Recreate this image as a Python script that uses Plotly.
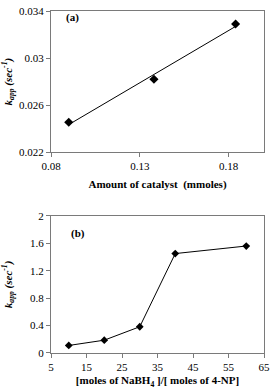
import numpy as np
import plotly.graph_objects as go

# Panel (a)
catalyst = [0.09, 0.138, 0.184]
kapp_a = [0.02455, 0.0282, 0.0329]
# Panel (b)
ratio = [10, 20, 30, 40, 60]
kapp_b = [0.11, 0.187, 0.383, 1.45, 1.56]

xa_ticks = [0.08, 0.13, 0.18]
ya_ticks = [0.022, 0.026, 0.03, 0.034]
xb_ticks = [5, 15, 25, 35, 45, 55, 65]
yb_ticks = [0, 0.4, 0.8, 1.2, 1.6, 2]

FONT = "Liberation Serif"
FS = 11

# linear trendline for (a)
slope, intercept = np.polyfit(catalyst, kapp_a, 1)
fit_x = [min(catalyst), max(catalyst)]
fit_y = [slope * v + intercept for v in fit_x]

fig = go.Figure()
fig.add_trace(go.Scatter(x=fit_x, y=fit_y, mode="lines",
                         line=dict(color="black", width=1),
                         xaxis="x", yaxis="y", showlegend=False))
fig.add_trace(go.Scatter(x=catalyst, y=kapp_a, mode="markers",
                         marker=dict(symbol="diamond", color="black", size=7),
                         xaxis="x", yaxis="y", showlegend=False))
fig.add_trace(go.Scatter(x=ratio, y=kapp_b, mode="lines+markers",
                         line=dict(color="black", width=1),
                         marker=dict(symbol="diamond", color="black", size=6),
                         xaxis="x2", yaxis="y2", showlegend=False))

ax_common = dict(showgrid=False, zeroline=False, showline=True, mirror=True,
                 linecolor="#7a7a7a", linewidth=1, ticks="outside", ticklen=4,
                 tickcolor="#7a7a7a", tickfont=dict(family=FONT, size=FS, color="black"))

ytitle = "<b><i>k</i><sub><i>app</i></sub><i> (sec<sup>-1</sup>)</i></b>"

fig.update_layout(
    width=275, height=390,
    margin=dict(l=51, r=7, t=5, b=35),
    paper_bgcolor="white", plot_bgcolor="white",
    font=dict(family=FONT, color="black", size=FS),
    xaxis=dict(ax_common, domain=[0, 1], range=[0.08, 0.2], tickvals=xa_ticks,
               ticktext=["0.08", "0.13", "0.18"], anchor="y",
               title=dict(text="<b>Amount of catalyst  (mmoles)</b>",
                          font=dict(family=FONT, size=FS), standoff=8)),
    yaxis=dict(ax_common, domain=[0.587, 1], range=[0.022, 0.034], tickvals=ya_ticks,
               ticktext=["0.022", "0.026", "0.03", "0.034"], anchor="x",
               title=dict(text=ytitle, font=dict(family=FONT, size=FS), standoff=6)),
    xaxis2=dict(ax_common, domain=[0, 1], range=[5, 65], tickvals=xb_ticks, anchor="y2",
                title=dict(text="<b>[moles of NaBH<sub>4</sub> ]/[ moles of 4-NP]</b>",
                           font=dict(family=FONT, size=FS), standoff=4)),
    yaxis2=dict(ax_common, domain=[0, 0.401], range=[0, 2], tickvals=yb_ticks,
                ticktext=["0", "0.4", "0.8", "1.2", "1.6", "2"], anchor="x2",
                title=dict(text=ytitle, font=dict(family=FONT, size=FS), standoff=17)),
    annotations=[
        dict(text="<b>(a)</b>", x=0.06, y=0.982, xref="paper", yref="paper",
             xanchor="left", yanchor="middle", showarrow=False,
             font=dict(family=FONT, size=FS)),
        dict(text="<b>(b)</b>", x=0.085, y=0.35, xref="paper", yref="paper",
             xanchor="left", yanchor="middle", showarrow=False,
             font=dict(family=FONT, size=FS)),
    ],
)

fig.write_html("out.html", config={"displayModeBar": False},
               post_script="document.body.style.margin='0';document.body.style.overflow='hidden';")
